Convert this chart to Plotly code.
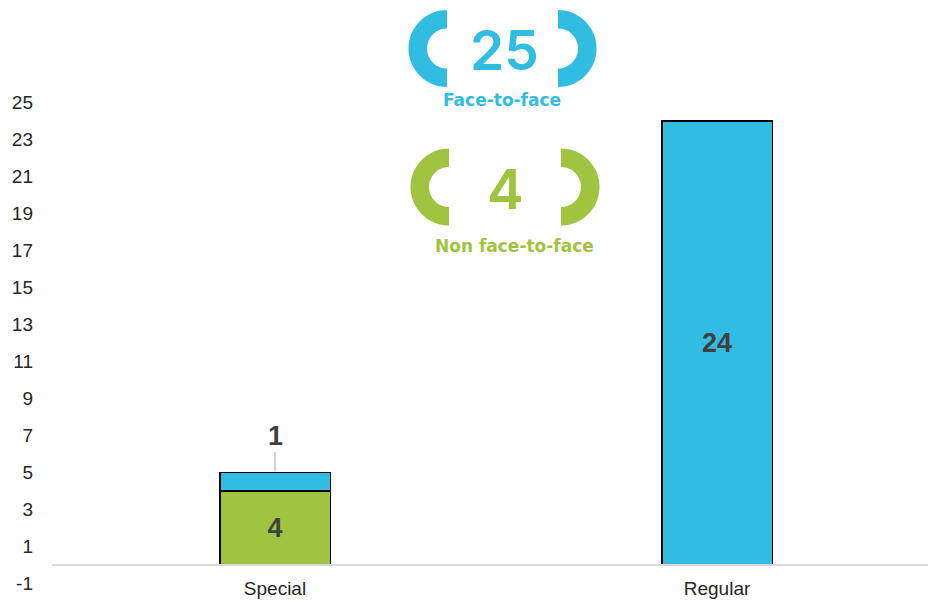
import numpy as np
import plotly.graph_objs as go

# chart data
categories = ['Special', 'Regular']
non_f2f = [4, None]
f2f = [1, 24]
y_ticks = list(range(-1, 26, 2))

total_f2f = 25
total_non_f2f = 4

W, H = 928, 602
BLUE = '#31BDE1'
GREEN = '#A0C43F'
LABEL = '#404040'


def px(x):
    return x / W


def py(y):
    return 1 - y / H


def bracket_path(cx, cy, r_out, r_in, side):
    """
    half ring, flat end at cx, opening towards the number
    """
    if side == 'left':
        t = np.linspace(np.pi / 2, 3 * np.pi / 2, 40)
    else:
        t = np.linspace(-np.pi / 2, np.pi / 2, 40)
    outer = [(cx + r_out * np.cos(a), cy - r_out * np.sin(a)) for a in t]
    inner = [(cx + r_in * np.cos(a), cy - r_in * np.sin(a)) for a in t[::-1]]
    pts = outer + inner
    path = 'M ' + ' L '.join(f'{px(x):.5f},{py(y):.5f}' for x, y in pts) + ' Z'
    return path


fig = go.Figure()
fig.add_trace(go.Bar(
    x=categories, y=non_f2f, name='Non face-to-face',
    marker=dict(color=GREEN, line=dict(color='black', width=1.5)),
    width=0.25,
    text=[str(v) if v else '' for v in non_f2f],
    textposition='inside', insidetextanchor='middle',
    textfont=dict(family='Arial', size=27, color=LABEL, weight='bold')))
fig.add_trace(go.Bar(
    x=categories, y=f2f, name='Face-to-face',
    marker=dict(color=BLUE, line=dict(color='black', width=1.5)),
    width=0.25,
    text=[str(v) if v > 2 else '' for v in f2f],
    textposition='inside', insidetextanchor='middle',
    textfont=dict(family='Arial', size=27, color=LABEL, weight='bold')))

# small segment gets its label above with a leader line
for cat, a, b in zip(categories, non_f2f, f2f):
    if b <= 2:
        fig.add_annotation(
            x=cat, y=(a or 0) + b, text=str(b), showarrow=True,
            ax=0, ay=-37, arrowhead=0, arrowwidth=1, arrowcolor='#A6A6A6',
            standoff=1,
            font=dict(family='Arial', size=27, color=LABEL, weight='bold'))

shapes = []
for cy, color, lx, rx in [(48.5, BLUE, 447, 558), (187, GREEN, 449, 561)]:
    shapes.append(dict(type='path', xref='paper', yref='paper',
                       path=bracket_path(lx, cy, 38.5, 20, 'left'),
                       fillcolor=color, line=dict(width=0)))
    shapes.append(dict(type='path', xref='paper', yref='paper',
                       path=bracket_path(rx, cy, 38.5, 20, 'right'),
                       fillcolor=color, line=dict(width=0)))

big = dict(family='Inter', size=55, weight=600)
small = dict(family='DejaVu Sans', size=17, weight='bold')
for x, y, txt, color, f in [
        (504, 50, str(total_f2f), BLUE, big),
        (502, 100, 'Face-to-face', BLUE, small),
        (506, 189, str(total_non_f2f), GREEN, big),
        (514, 246, 'Non face-to-face', GREEN, small)]:
    fig.add_annotation(x=px(x), y=py(y), xref='paper', yref='paper',
                       xanchor='center', yanchor='middle',
                       text=txt, showarrow=False,
                       font=dict(color=color, **f))

fig.update_layout(
    width=W, height=H,
    margin=dict(l=0, r=0, t=0, b=0, autoexpand=False),
    plot_bgcolor='white', paper_bgcolor='white',
    barmode='stack', showlegend=False,
    shapes=shapes,
    xaxis=dict(
        type='category', domain=[px(52), 1], automargin=False,
        range=[-0.5 - 2 / 442, 1.5 - 10 / 442],
        anchor='free', position=py(565),
        showline=True, linecolor='#D9D9D9', linewidth=1.5,
        showgrid=False, ticks='', ticklabelstandoff=6,
        tickfont=dict(family='Arial', size=19, color='#262626')),
    yaxis=dict(
        domain=[py(583.5), py(102.5)], range=[-1, 25], automargin=False,
        anchor='free', position=px(52),
        tickvals=y_ticks, ticktext=[str(v) for v in y_ticks],
        showgrid=False, zeroline=False, showline=False,
        ticks='', ticklabelstandoff=19,
        tickfont=dict(family='Arial', size=19, color='#262626')),
)

# drop the default page margin so the figure sits at the window's corner
fig.write_html("out.html", config={'displayModeBar': False},
               post_script="document.body.style.margin='0';")
